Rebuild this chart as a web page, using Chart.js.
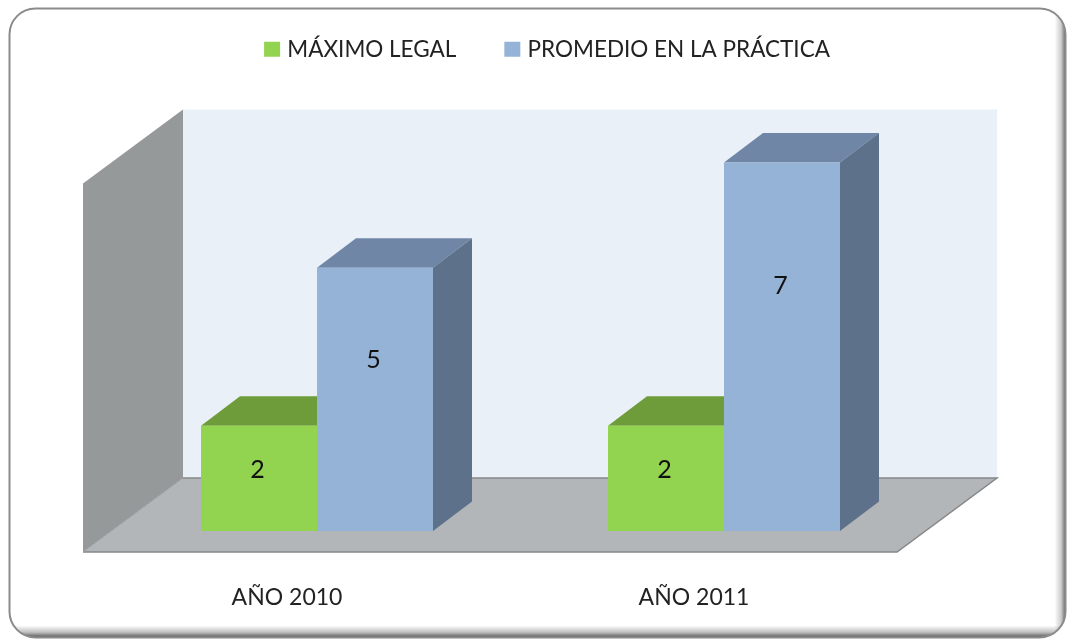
<!DOCTYPE html>
<html><head><meta charset="utf-8">
<style>html,body{margin:0;padding:0;background:#fff;overflow:hidden}canvas{display:block}</style>
<script src="https://cdn.jsdelivr.net/npm/chart.js@4/dist/chart.umd.min.js"></script>
</head><body>
<canvas id="c" width="1069" height="639"></canvas>
<script>
const categories = ['AÑO 2010', 'AÑO 2011'];
const maximoLegal = [2, 2];
const promedioPractica = [5, 7];
const seriesNames = ['MÁXIMO LEGAL', 'PROMEDIO EN LA PRÁCTICA'];
const FONT = 'Lato, Carlito, sans-serif';
const colors = {
  green: {front:'#92d350', top:'#6f9c3a', side:'#5f8a30'},
  blue: {front:'#95b3d7', top:'#7086a6', side:'#5e718b'},
  wall:'#95999a', back:'#e9f0f7', floor:'#b2b6b9', edge:'#858789'
};
const depth = {frontX:-30.5, frontY:21, backX:69.5, backY:-53, barX:39, barY:-29.5};

function quad(ctx, pts, fill) {
  ctx.beginPath();
  pts.forEach((p,i)=> i ? ctx.lineTo(p[0],p[1]) : ctx.moveTo(p[0],p[1]));
  ctx.closePath(); ctx.fillStyle = fill; ctx.fill();
}
function frame(ctx) {
  const x=9.5,y=8.5,w=1056,h=629,r=26;
  const path=()=>{ctx.beginPath();ctx.roundRect(x,y,w,h,r);};
  ctx.save();
  ctx.fillStyle='#fff';ctx.fillRect(0,0,1069,639);
  path();ctx.save();ctx.clip();
  let g=ctx.createLinearGradient(x+w-11,0,x+w,0);
  g.addColorStop(0,'rgba(110,110,110,0)');g.addColorStop(.6,'rgba(110,110,110,.35)');g.addColorStop(1,'rgba(90,90,90,.95)');
  ctx.fillStyle=g;ctx.fillRect(x+w-11,y,11,h);
  g=ctx.createLinearGradient(0,y+h-12,0,y+h);
  g.addColorStop(0,'rgba(100,100,100,0)');g.addColorStop(.55,'rgba(100,100,100,.4)');g.addColorStop(1,'rgba(80,80,80,1)');
  ctx.fillStyle=g;ctx.fillRect(x,y+h-12,w,12);
  ctx.restore();
  path();ctx.strokeStyle='#8b8b8b';ctx.lineWidth=2;ctx.stroke();
  ctx.restore();
}
const scene = {
  id:'scene',
  afterLayout(chart){
    const l=chart.legend, shift=28.5;
    l.left+=shift; l.right+=shift;
    const pad=chart.options.plugins.legend.labels.padding;
    const h=l.bottom-l.top;
    l.top=38-pad; l.bottom=l.top+h;
  },
  beforeDraw(chart){ frame(chart.ctx); },
  beforeDatasetsDraw(chart){
    const ctx=chart.ctx,a=chart.chartArea,d=depth;
    const fl=a.left+d.frontX, fr=a.right+d.frontX, fb=a.bottom+d.frontY, ft=a.top+d.frontY;
    const bl=a.left+d.backX, br=a.right+d.backX, bb=a.bottom+d.backY, bt=a.top+d.backY;
    quad(ctx,[[bl,bt],[br,bt],[br,bb],[bl,bb]],colors.back);
    quad(ctx,[[fl,ft],[bl,bt],[bl,bb],[fl,fb]],colors.wall);
    quad(ctx,[[fl,fb],[bl,bb],[br,bb],[fr,fb]],colors.floor);
    ctx.save();ctx.strokeStyle=colors.edge;ctx.lineWidth=1.5;
    ctx.beginPath();ctx.moveTo(bl,bb);ctx.lineTo(br,bb);ctx.lineTo(fr,fb);ctx.lineTo(fl,fb);ctx.stroke();
    ctx.strokeStyle='#a0a3a5';ctx.lineWidth=1;ctx.beginPath();ctx.moveTo(fl,fb);ctx.lineTo(bl,bb);ctx.stroke();
    ctx.restore();
    [colors.green,colors.blue].forEach((c,i)=>{
      chart.getDatasetMeta(i).data.forEach(bar=>{
        const L=bar.x-bar.width/2,R=bar.x+bar.width/2,T=bar.y,B=bar.base,X=d.barX,Y=d.barY;
        quad(ctx,[[L,T],[L+X,T+Y],[R+X,T+Y],[R,T]],c.top);
        quad(ctx,[[R,T],[R+X,T+Y],[R+X,B+Y],[R,B]],c.side);
      });
    });
  },
  afterDatasetsDraw(chart){
    const ctx=chart.ctx;
    ctx.save();ctx.fillStyle='#111';ctx.font='25px '+FONT;ctx.textAlign='center';ctx.textBaseline='middle';
    chart.data.datasets.forEach((ds,i)=>{
      chart.getDatasetMeta(i).data.forEach((bar,j)=>{
        const h=bar.base-bar.y;
        ctx.fillText(ds.data[j],bar.x-1.5,bar.base-(0.7*h-13));
      });
    });
    ctx.restore();
  }
};
new Chart(document.getElementById('c'),{
  type:'bar',
  data:{labels:categories,datasets:[
    {label:seriesNames[0],data:maximoLegal,backgroundColor:colors.green.front,borderWidth:0,categoryPercentage:.57,barPercentage:1},
    {label:seriesNames[1],data:promedioPractica,backgroundColor:colors.blue.front,borderWidth:0,categoryPercentage:.57,barPercentage:1}
  ]},
  options:{
    responsive:false,animation:false,
    layout:{padding:{left:113.5,right:141.5,top:78,bottom:0}},
    plugins:{
      tooltip:{enabled:false},
      legend:{position:'top',labels:{
        padding:52,boxWidth:8,boxHeight:7,color:'#222',font:{family:FONT,size:22.5},
        generateLabels(chart){return chart.data.datasets.map((ds,i)=>({
          text:ds.label,fillStyle:ds.backgroundColor,strokeStyle:ds.backgroundColor,lineWidth:8,datasetIndex:i,hidden:false,fontColor:'#222'}));}
      }}
    },
    scales:{
      x:{grid:{display:false},border:{display:false},
        afterFit(s){s.height=108;},
        ticks:{color:'#222',font:{family:FONT,size:23},padding:45,labelOffset:-30,maxRotation:0,autoSkip:false}},
      y:{display:false,min:0,max:7}
    }
  },
  plugins:[scene]
});
</script>
</body></html>
